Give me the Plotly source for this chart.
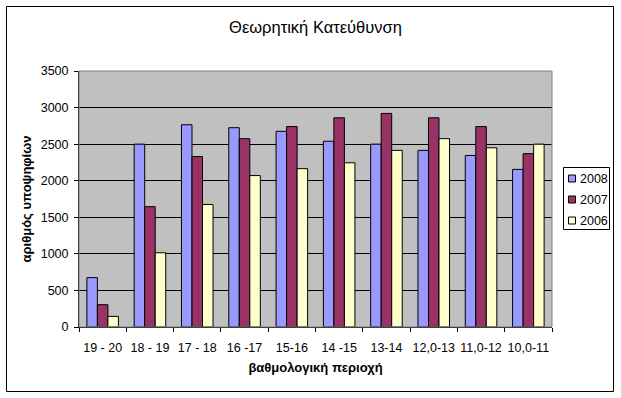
import plotly.graph_objects as go

categories = ["19 - 20", "18 - 19", "17 - 18", "16 -17", "15-16", "14 -15", "13-14", "12,0-13", "11,0-12", "10,0-11"]
series_names = ["2008", "2007", "2006"]
values_2008 = [675, 2500, 2765, 2725, 2675, 2540, 2500, 2415, 2345, 2155]
values_2007 = [305, 1645, 2330, 2575, 2740, 2860, 2920, 2860, 2740, 2370]
values_2006 = [145, 1015, 1675, 2070, 2165, 2245, 2415, 2575, 2450, 2500]
colors = ["#9999FF", "#993366", "#FFFFCC"]
y_ticks = [0, 500, 1000, 1500, 2000, 2500, 3000, 3500]

W, H = 621, 398
PL, PR, PT, PB = 79, 552, 71, 327  # plot area pixels

def px_x(p):
    return (p - PL) / (PR - PL)

def px_y(p):
    return (PB - p) / (PB - PT)

font = "Liberation Sans, Arial, sans-serif"

fig = go.Figure()
for name, vals, col in zip(series_names, [values_2008, values_2007, values_2006], colors):
    fig.add_trace(go.Bar(
        x=categories, y=vals, name=name,
        marker=dict(color=col, line=dict(color="black", width=1)),
    ))

shapes = [
    dict(type="rect", xref="paper", yref="paper", x0=0, x1=1, y0=0, y1=1,
         line=dict(color="#808080", width=1), fillcolor="rgba(0,0,0,0)", layer="above"),
    dict(type="rect", xref="paper", yref="paper",
         x0=px_x(6.5), x1=px_x(613.5), y0=px_y(391.5), y1=px_y(6.5),
         line=dict(color="black", width=1), fillcolor="rgba(0,0,0,0)"),
    # legend box
    dict(type="rect", xref="paper", yref="paper",
         x0=px_x(563.5), x1=px_x(609.5), y0=px_y(229.5), y1=px_y(167.5),
         line=dict(color="black", width=1), fillcolor="white"),
]
annotations = []
legend_rows = [178.5, 199.5, 220.5]
for name, col, cy in zip(series_names, colors, legend_rows):
    shapes.append(dict(type="rect", xref="paper", yref="paper",
                       x0=px_x(568.5), x1=px_x(575.5), y0=px_y(cy + 3.5), y1=px_y(cy - 3.5),
                       line=dict(color="black", width=1), fillcolor=col))
    annotations.append(dict(text=name, xref="paper", yref="paper", x=px_x(578), y=px_y(cy),
                            xanchor="left", yanchor="middle", showarrow=False,
                            font=dict(size=12.5, family=font, color="black")))

fig.update_layout(
    width=W, height=H,
    margin=dict(l=PL, r=W - PR, t=PT, b=H - PB, pad=0, autoexpand=False),
    paper_bgcolor="white",
    plot_bgcolor="#C0C0C0",
    barmode="group",
    bargap=1.5 / 4.5,
    bargroupgap=0,
    font=dict(family=font, size=12.5, color="black"),
    title=dict(text="Θεωρητική Κατεύθυνση", x=0.5, xref="paper", xanchor="center",
               y=1 - 27 / H, yanchor="middle", font=dict(size=16.5, family=font)),
    showlegend=False,
    xaxis=dict(
        type="category", tickson="boundaries", ticks="outside", ticklen=4,
        tickcolor="black", showline=True, linecolor="black", linewidth=1,
        showgrid=False, tickfont=dict(size=12.5), tickangle=0, automargin=False,
        ticklabelstandoff=9,
        title=dict(text="<b>βαθμολογική περιοχή</b>", standoff=8, font=dict(size=13)),
    ),
    yaxis=dict(
        range=[0, 3500], tickvals=y_ticks, ticks="outside", ticklen=4,
        tickcolor="black", showline=True, linecolor="black", linewidth=1,
        showgrid=True, gridcolor="black", gridwidth=1, zeroline=False,
        tickfont=dict(size=12.5), automargin=False, ticklabelstandoff=3,
        title=dict(text="<b>αριθμός υποψηφίων</b>", standoff=6, font=dict(size=13)),
    ),
    shapes=shapes,
    annotations=annotations,
)

fig.write_html("out.html", config={"displayModeBar": False},
               post_script="document.body.style.margin='0';document.body.style.overflow='hidden';")
